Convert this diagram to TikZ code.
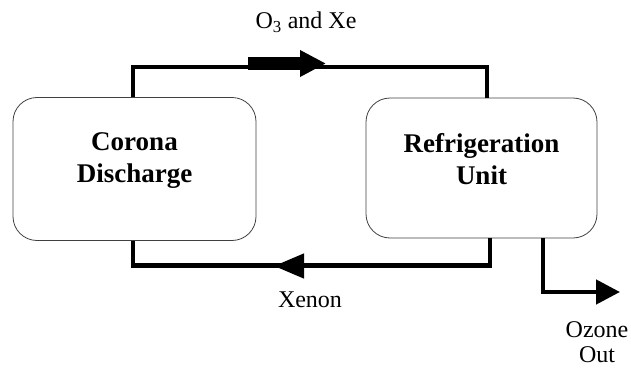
\documentclass[tikz,border=0pt]{standalone}
\usepackage{fontspec}
\setmainfont{Liberation Serif}
\usetikzlibrary{arrows.meta, calc}

\begin{document}
\begin{tikzpicture}[x=1pt, y=-1pt, every node/.style={font=\fontsize{24}{28}\selectfont},
    unit/.style={draw=black!75, line width=0.8pt, rounded corners=24pt, align=center, font=\fontsize{27}{32}\selectfont\bfseries},
    flow/.style={line width=4.6pt}]
  \useasboundingbox (0,0) rectangle (631,369);
  \node[unit, minimum width=243pt, minimum height=143pt] (corona) at (134.5,169) {Corona\\Discharge\\[-10pt]};
  \node[unit, minimum width=231pt, minimum height=140pt] (fridge) at (481.5,168) {Refrigeration\\Unit\\[-14pt]};
  \draw[flow] ($(corona.north)+(-1.5,0)$) -- ++(0,-30) -| ($(fridge.north)+(5.5,0)$);
  \draw[flow] ($(fridge.south)+(8.5,0)$) -- ++(0,27) -| ($(corona.south)+(-1.5,0)$);
  \coordinate (ozoneend) at (620,292);
  \draw[flow, -{Triangle[length=24pt, width=24pt]}] ($(fridge.south)+(61.5,0)$) |- (ozoneend);
  \draw[line width=12pt, -{Triangle[length=26pt, width=25pt]}] (248,63.5) -- (326,63.5);
  \draw[flow, -{Triangle[length=30pt, width=24pt]}] (310,266) -- (274,266);
  \node (o3xe) at (306,22) {O\textsubscript{3} and Xe};
  \node (xenon) at (310,300) {Xenon};
  \node[align=center, font=\fontsize{24}{25}\selectfont] (ozone) at (597,342) {Ozone\\Out};
\end{tikzpicture}
\end{document}
